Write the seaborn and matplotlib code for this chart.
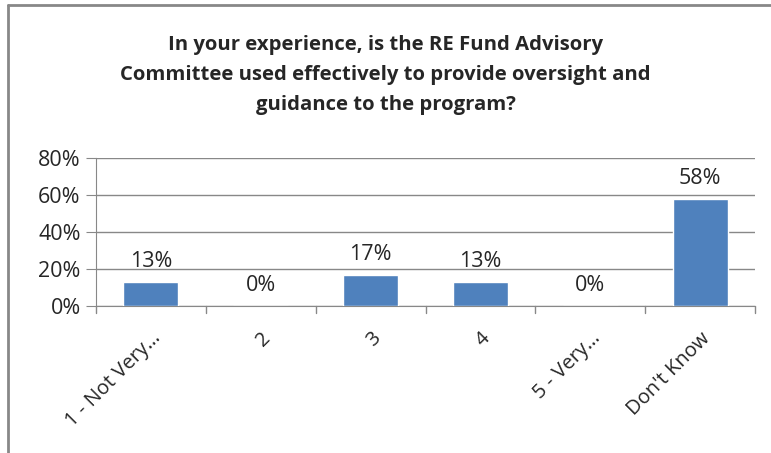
import matplotlib
matplotlib.use('Agg')
import matplotlib.pyplot as plt
import seaborn as sns
import pandas as pd
from matplotlib.lines import Line2D

# survey answers and share of respondents
categories = ["1 - Not Very\u2026", "2", "3", "4", "5 - Very\u2026", "Don't Know"]
shares = [13, 0, 17, 13, 0, 58]
y_ticks = [0, 20, 40, 60, 80]
title = ("In your experience, is the RE Fund Advisory\n"
         "Committee used effectively to provide oversight and\n"
         "guidance to the program?")

df = pd.DataFrame({'answer': categories, 'share': shares})

sns.set_style('white')
plt.rcParams['font.family'] = ['Open Sans', 'DejaVu Sans']

fig = plt.figure(figsize=(7.71, 4.53), dpi=100)
ax = fig.add_axes([96 / 771, 1 - 306 / 453, 659 / 771, 148 / 453])

sns.barplot(data=df, x='answer', y='share', color='#4F81BD', width=0.5,
            saturation=1, ax=ax, zorder=3)

ax.set_ylim(0, 80)
ax.set_xlim(-0.5, len(categories) - 0.5)
ax.set_yticks(y_ticks)
ax.set_yticklabels([f'{t}%' for t in y_ticks], fontsize=15.5)
ax.yaxis.grid(True, color='#888888', linewidth=1)
ax.set_xlabel('')
ax.set_ylabel('')

# tick marks between categories like excel
ax.set_xticks(range(len(categories)))
ax.set_xticklabels(categories, rotation=45, ha='right', va='top',
                   rotation_mode='anchor', fontsize=14.5)
ax.tick_params(axis='x', length=0, pad=16)
for b in range(len(categories) + 1):
    ax.add_line(Line2D([b - 0.5, b - 0.5], [0, -4], color='#888888', lw=1,
                       clip_on=False))
ax.tick_params(axis='y', length=7, color='#888888', left=True, pad=4)

for s in ['top', 'right']:
    ax.spines[s].set_visible(False)
ax.spines['left'].set_color('#888888')
ax.spines['bottom'].set_color('#888888')

for i, v in enumerate(shares):
    ax.annotate(f'{v}%', (i, v), xytext=(0, 7), textcoords='offset points',
                ha='center', va='bottom', fontsize=15.5)

fig.text(0.5, 1 - 75 / 453, title, ha='center', va='center', fontsize=14.6,
         fontweight='bold', linespacing=1.65)

# outer chart border
fig.add_artist(Line2D([8 / 771, 8 / 771], [0, 1 - 5 / 453], color='#888888',
                      lw=2, transform=fig.transFigure))
fig.add_artist(Line2D([8 / 771, 1], [1 - 5 / 453, 1 - 5 / 453], color='#888888',
                      lw=2, transform=fig.transFigure))

fig.savefig('out.png', dpi=100, facecolor='white')
